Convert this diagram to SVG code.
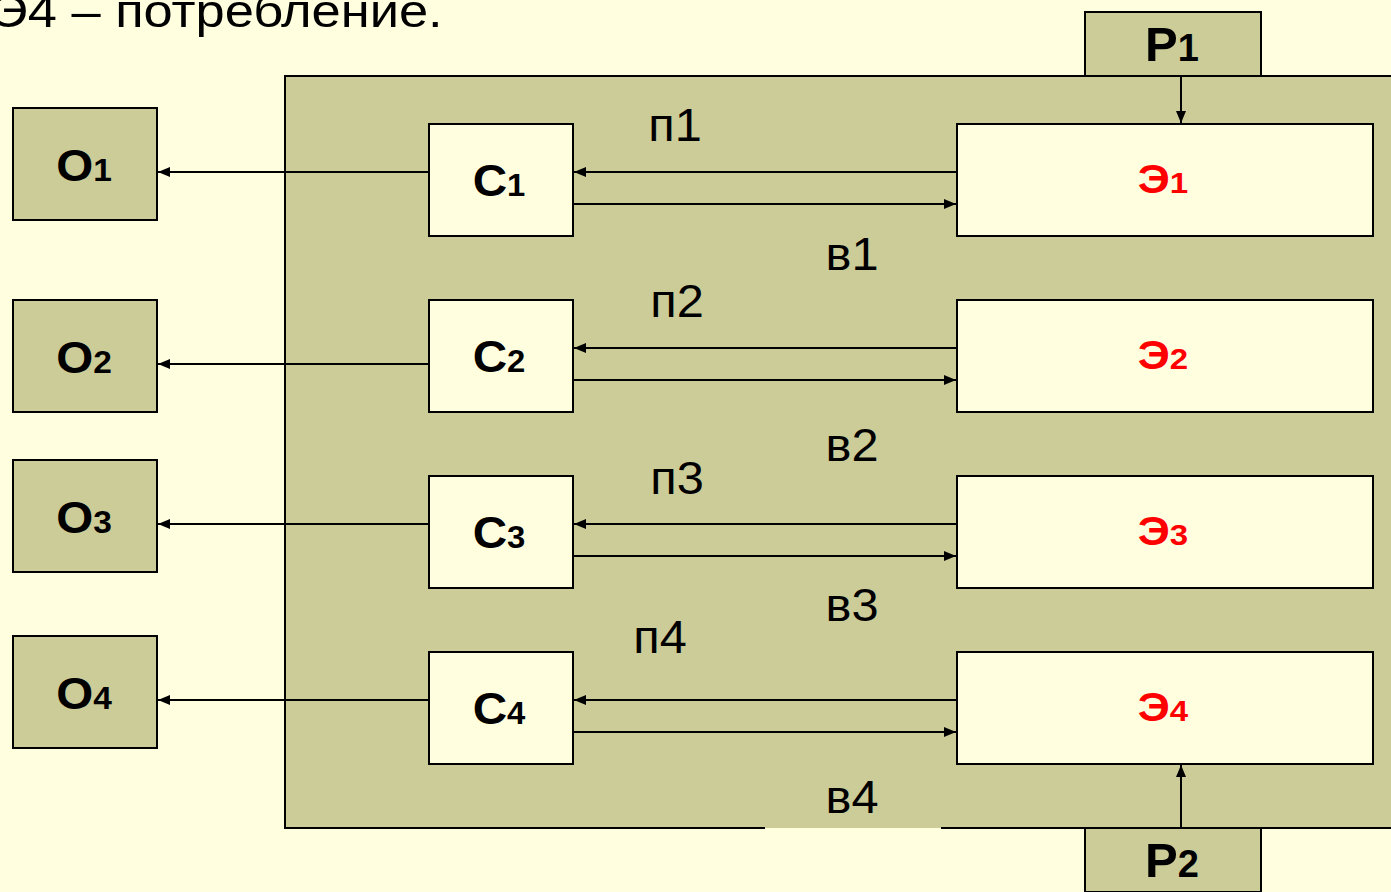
<svg xmlns="http://www.w3.org/2000/svg" width="1391" height="892" viewBox="0 0 1391 892">
<defs>
<style>
.bg{fill:#FFFFE0}
.ol{fill:#CCCC99;stroke:#000;stroke-width:2}
.wh{fill:#FFFFE0;stroke:#000;stroke-width:2}
.ln{stroke:#000;stroke-width:2;fill:none}
.b{font-family:"Liberation Sans",Arial,sans-serif;font-weight:bold;text-anchor:middle;fill:#000}
.r{fill:#FF0000}
.n{font-family:"Liberation Sans",Arial,sans-serif;font-size:46px;text-anchor:middle;fill:#000}
</style>
<marker id="ah" viewBox="0 0 12 10" refX="12" refY="5" markerWidth="12" markerHeight="10" markerUnits="userSpaceOnUse" orient="auto">
<path d="M0,0 L12,5 L0,10 Z" fill="#000"/>
</marker>
</defs>
<rect class="bg" x="0" y="0" width="1391" height="892"/>
<text transform="translate(-10 27) scale(1.14 1)" style="font-family:'Liberation Sans',Arial,sans-serif;font-size:46px;fill:#000">Э4 – потребление.</text>

<g id="frame">
<rect class="ol" x="285" y="76" width="1200" height="752"/>
<rect x="765" y="818" width="176" height="10" fill="#CCCC99"/>
<rect x="765" y="828" width="176" height="2" fill="#FFFFE0"/>
</g>

<g id="P1"><rect class="ol" x="1085" y="12" width="176" height="64"/><text class="b" transform="translate(1172 61) scale(1.0 1)" font-size="49">Р<tspan font-size="38">1</tspan></text></g>
<g id="P2"><rect class="ol" x="1085" y="828" width="176" height="64"/><text class="b" transform="translate(1172 877) scale(1.0 1)" font-size="49">Р<tspan font-size="38">2</tspan></text></g>

<g id="O1"><rect class="ol" x="13" y="108" width="144" height="112"/><text class="b" transform="translate(84 181) scale(1.08 1)" font-size="44">О<tspan font-size="31">1</tspan></text></g>
<g id="O2"><rect class="ol" x="13" y="300" width="144" height="112"/><text class="b" transform="translate(84 373) scale(1.08 1)" font-size="44">О<tspan font-size="31">2</tspan></text></g>
<g id="O3"><rect class="ol" x="13" y="460" width="144" height="112"/><text class="b" transform="translate(84 533) scale(1.08 1)" font-size="44">О<tspan font-size="31">3</tspan></text></g>
<g id="O4"><rect class="ol" x="13" y="636" width="144" height="112"/><text class="b" transform="translate(84 709) scale(1.08 1)" font-size="44">О<tspan font-size="31">4</tspan></text></g>

<g id="C1"><rect class="wh" x="429" y="124" width="144" height="112"/><text class="b" transform="translate(499 196) scale(1.06 1)" font-size="45">С<tspan font-size="31">1</tspan></text></g>
<g id="C2"><rect class="wh" x="429" y="300" width="144" height="112"/><text class="b" transform="translate(499 372) scale(1.06 1)" font-size="45">С<tspan font-size="31">2</tspan></text></g>
<g id="C3"><rect class="wh" x="429" y="476" width="144" height="112"/><text class="b" transform="translate(499 548) scale(1.06 1)" font-size="45">С<tspan font-size="31">3</tspan></text></g>
<g id="C4"><rect class="wh" x="429" y="652" width="144" height="112"/><text class="b" transform="translate(499 724) scale(1.06 1)" font-size="45">С<tspan font-size="31">4</tspan></text></g>

<g id="E1"><rect class="wh" x="957" y="124" width="416" height="112"/><text class="b r" transform="translate(1163 193) scale(1.1 1)" font-size="41">Э<tspan font-size="30">1</tspan></text></g>
<g id="E2"><rect class="wh" x="957" y="300" width="416" height="112"/><text class="b r" transform="translate(1163 369) scale(1.1 1)" font-size="41">Э<tspan font-size="30">2</tspan></text></g>
<g id="E3"><rect class="wh" x="957" y="476" width="416" height="112"/><text class="b r" transform="translate(1163 545) scale(1.1 1)" font-size="41">Э<tspan font-size="30">3</tspan></text></g>
<g id="E4"><rect class="wh" x="957" y="652" width="416" height="112"/><text class="b r" transform="translate(1163 721) scale(1.1 1)" font-size="41">Э<tspan font-size="30">4</tspan></text></g>

<g id="connectors">
<line class="ln" x1="1181" y1="76" x2="1181" y2="123" marker-end="url(#ah)"/>
<line class="ln" x1="1181" y1="827" x2="1181" y2="765" marker-end="url(#ah)"/>
<line class="ln" x1="429" y1="172" x2="158" y2="172" marker-end="url(#ah)"/>
<line class="ln" x1="429" y1="364" x2="158" y2="364" marker-end="url(#ah)"/>
<line class="ln" x1="429" y1="524" x2="158" y2="524" marker-end="url(#ah)"/>
<line class="ln" x1="429" y1="700" x2="158" y2="700" marker-end="url(#ah)"/>
<line class="ln" x1="957" y1="172" x2="574" y2="172" marker-end="url(#ah)"/>
<line class="ln" x1="573" y1="204" x2="956" y2="204" marker-end="url(#ah)"/>
<line class="ln" x1="957" y1="348" x2="574" y2="348" marker-end="url(#ah)"/>
<line class="ln" x1="573" y1="380" x2="956" y2="380" marker-end="url(#ah)"/>
<line class="ln" x1="957" y1="524" x2="574" y2="524" marker-end="url(#ah)"/>
<line class="ln" x1="573" y1="556" x2="956" y2="556" marker-end="url(#ah)"/>
<line class="ln" x1="957" y1="700" x2="574" y2="700" marker-end="url(#ah)"/>
<line class="ln" x1="573" y1="732" x2="956" y2="732" marker-end="url(#ah)"/>
</g>

<g id="labels">
<text class="n" transform="translate(675 141) scale(1.06 1)">п1</text>
<text class="n" transform="translate(852 270) scale(1.06 1)">в1</text>
<text class="n" transform="translate(677 317) scale(1.06 1)">п2</text>
<text class="n" transform="translate(852 461) scale(1.06 1)">в2</text>
<text class="n" transform="translate(677 494) scale(1.06 1)">п3</text>
<text class="n" transform="translate(852 621) scale(1.06 1)">в3</text>
<text class="n" transform="translate(660 653) scale(1.06 1)">п4</text>
<text class="n" transform="translate(852 813) scale(1.06 1)">в4</text>
</g>
</svg>
